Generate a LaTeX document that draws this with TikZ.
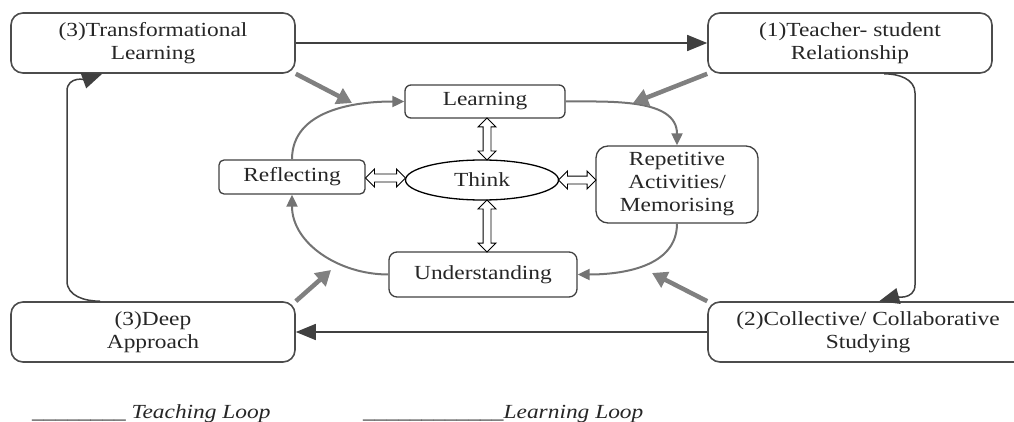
\documentclass[tikz,border=0pt]{standalone}
\usepackage{fontspec}
\setmainfont{Liberation Serif}[FakeStretch=1.17]
\usetikzlibrary{arrows.meta,shapes.geometric,shapes.arrows,calc}
\begin{document}
\begin{tikzpicture}[x=1pt,y=1pt,
  txt/.style={text=black!85, font=\fontsize{20}{23}\selectfont, align=center, inner sep=0pt},
  outer/.style={txt, draw=black!70, line width=1.6pt, rounded corners=12pt, minimum width=284pt, minimum height=60pt},
  inbox/.style={txt, draw=black!75, line width=1.3pt, rounded corners=6pt},
  dbl/.style={double arrow, draw=black, line width=0.9pt, fill=white, inner xsep=0pt, inner ysep=3.5pt, double arrow head extend=5pt},
  conn/.style={draw=black!75, line width=1.5pt, -{Triangle[length=20pt,width=16pt]}},
  cyc/.style={draw=black!55, line width=2pt, -{Triangle[length=12pt,width=11pt]}},
  feed/.style={draw=black!50, line width=4.5pt, -{Triangle[length=15pt,width=17pt]}}
]
\useasboundingbox (0,0) rectangle (1014,421);
% outer boxes
\node[outer] (tl) at (153,378) {(3)Transformational\\Learning};
\node[outer] (tr) at (850,378) {(1)Teacher- student\\Relationship};
\node[outer] (bl) at (153,89) {(3)Deep\\Approach};
\node[outer, minimum width=320pt] (br) at (868,89) {(2)Collective/ Collaborative\\Studying};
% inner nodes
\node[inbox, minimum width=160pt, minimum height=33pt] (learn) at (485,319.5) {Learning};
\node[inbox, rounded corners=5pt, minimum width=146pt, minimum height=34pt] (refl) at (292,244) {Reflecting};
\node[txt, ellipse, draw=black, line width=1.3pt, minimum width=153pt, minimum height=40pt] (think) at (482,241) {Think};
\node[inbox, rounded corners=12pt, minimum width=162pt, minimum height=77pt] (rep) at (677,236.5) {Repetitive\\Activities/\\Memorising};
\node[inbox, rounded corners=8pt, minimum width=188pt, minimum height=45pt] (und) at (483,146.5) {Understanding};
% double arrows
\node[dbl, rotate=90, minimum height=42pt] (d1) at (487,282) {};
\node[dbl, rotate=90, minimum height=52pt] (d2) at (487,195) {};
\node[dbl, minimum height=40pt] (d3) at (385.5,243) {};
\node[dbl, minimum height=37.5pt] (d4) at (577.25,241) {};
% teaching loop connectors
\draw[conn] (tl.east) -- (tr.west);
\draw[conn] (br.west) -- (bl.east);
\coordinate (r1) at (915,328);
\coordinate (r2) at (915,136);
\draw[conn] ([xshift=177pt]tr.south west) to[out=0,in=90] (r1) -- (r2) to[out=-90,in=15] ([xshift=172pt]br.north west);
\coordinate (l1) at (67,140);
\coordinate (l2) at (67,330);
\draw[conn] ([xshift=90pt]bl.north west) to[out=180,in=-90] (l1) -- (l2) to[out=90,in=200] ([xshift=92pt]tl.south west);
% learning loop cycle
\draw[cyc] (refl.north) to[out=90,in=180] (learn.west);
\draw[cyc] (learn.east) to[out=0,in=90] (rep.north);
\draw[cyc] (rep.south) to[out=-90,in=0] (und.east);
\draw[cyc] (und.west) to[out=180,in=-90] (refl.south);
% feed arrows
\coordinate (c1) at (352,318);
\coordinate (c2) at (633,318);
\coordinate (c3) at (331,151);
\coordinate (c4) at (652,148);
\draw[feed] (tl.south east) -- (c1);
\draw[feed] (tr.south west) -- (c2);
\draw[feed] (bl.north east) -- (c3);
\draw[feed] (br.north west) -- (c4);
% legend
\node[txt, anchor=base west] (lg1) at (32,3) {\_\_\_\_\_\_\_\_ \textit{Teaching Loop}};
\node[txt, anchor=base west] (lg2) at (363,3) {\_\_\_\_\_\_\_\_\_\_\_\_\textit{Learning Loop}};
\end{tikzpicture}
\end{document}
